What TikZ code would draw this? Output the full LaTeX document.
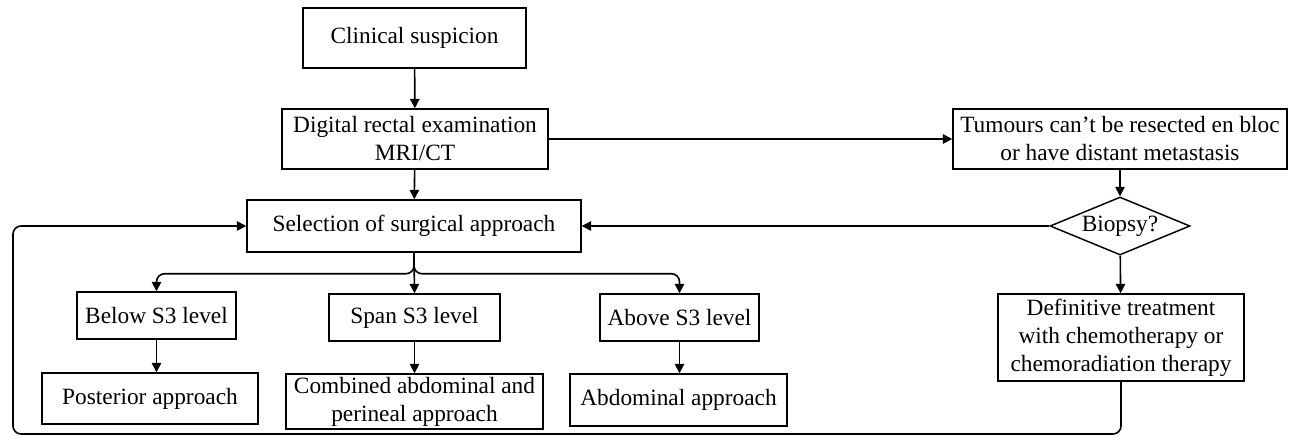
\documentclass[tikz,border=0pt]{standalone}
\usepackage{fontspec}
\setmainfont{Liberation Serif}
\usetikzlibrary{arrows.meta,shapes.geometric}
\begin{document}
\begin{tikzpicture}[x=0.75pt,y=-0.75pt,
    box/.style={draw,line width=1.1pt,align=center,inner sep=2pt,
        font=\fontsize{17.5pt}{21pt}\selectfont},
    decision/.style={draw,diamond,aspect=2.4,line width=1.1pt,inner sep=0pt,
        font=\fontsize{17.5pt}{21pt}\selectfont},
    arr/.style={line width=1.2pt,-{Triangle[width=7pt,length=7pt]}}]

    \useasboundingbox (0,0) rectangle (1290,437);

    \node[box,minimum width=167.25pt,minimum height=45pt] (clin) at (414.5,38) {Clinical suspicion};
    \node[box,minimum width=199.5pt,minimum height=45pt] (dre) at (415,139) {Digital rectal examination\\MRI/CT};
    \node[box,minimum width=250.5pt,minimum height=39pt] (sel) at (414,226) {Selection of surgical approach};
    \node[box,minimum width=250.5pt,minimum height=45pt] (tum) at (1120,139) {Tumours can’t be resected en bloc\\or have distant metastasis};
    \node[decision,minimum width=105pt,minimum height=43.5pt] (bio) at (1120,226) {Biopsy?};
    \node[box,minimum width=119.25pt,minimum height=35.25pt] (below) at (156.5,315.5) {Below S3 level};
    \node[box,minimum width=128.25pt,minimum height=35.25pt] (span) at (414.5,317.5) {Span S3 level};
    \node[box,minimum width=119.25pt,minimum height=35.25pt] (above) at (679.5,317.5) {Above S3 level};
    \node[box,minimum width=162pt,minimum height=38.25pt] (post) at (150,398.5) {Posterior approach};
    \node[box,minimum width=192.75pt,minimum height=41.25pt] (comb) at (414.5,401.5) {Combined abdominal and\\perineal approach};
    \node[box,minimum width=162.75pt,minimum height=39pt] (abd) at (678.5,400) {Abdominal approach};
    \node[box,minimum width=184.5pt,minimum height=65.25pt] (defi) at (1121,337.5) {Definitive treatment\\with chemotherapy or\\chemoradiation therapy};
    \coordinate (loopbl) at (13,434);

    \draw[arr] (clin) -- (dre);
    \draw[arr] (dre) -- (sel);
    \draw[arr] (dre) -- (tum);
    \draw[arr] (tum) -- (bio);
    \draw[arr] (bio) -- (sel);
    \draw[arr] (bio) -- (defi);
    \draw[arr] (sel.south) -- (span.north);
    \draw[arr,rounded corners=6] (sel.south) -- ++(0,21) -| (below.north);
    \draw[arr,rounded corners=6] (sel.south) -- ++(0,21) -| (above.north);
    \draw[arr] (below.south) -- (below.south |- post.north);
    \draw[arr] (span) -- (comb);
    \draw[arr] (above.south) -- (above.south |- abd.north);
    \draw[arr,rounded corners=6] (defi.south) |- (loopbl) |- (sel.west);
\end{tikzpicture}
\end{document}
